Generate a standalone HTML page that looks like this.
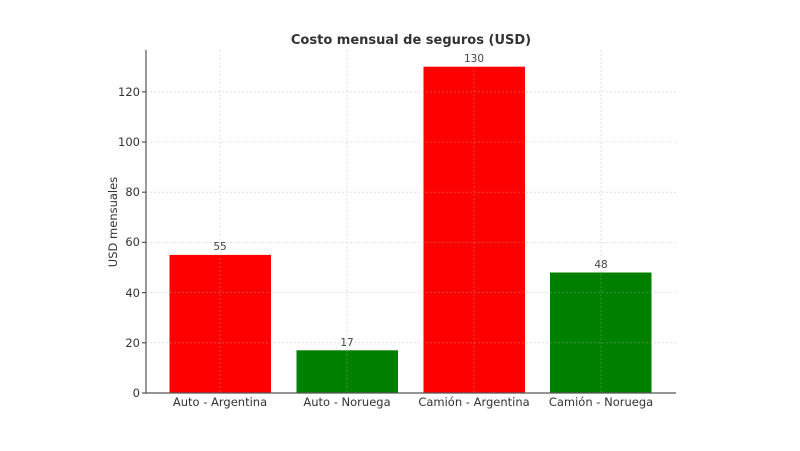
<!DOCTYPE html>
<html><head><meta charset="utf-8"><style>body{margin:0;background:#fff}svg{display:block}</style></head><body>
<svg width="800" height="451" viewBox="0 0 800 451" xmlns="http://www.w3.org/2000/svg" font-family="'DejaVu Sans','Liberation Sans',sans-serif">
<rect width="800" height="451" fill="#fff"/>
<g fill="#ff0000"><rect x="169.5" y="254.9" width="101.5" height="138.1"/><rect x="423.5" y="66.7" width="101.5" height="326.3"/></g>
<g fill="#008000"><rect x="296.5" y="350.3" width="101.5" height="42.7"/><rect x="550" y="272.5" width="101.5" height="120.5"/></g>
<g stroke="#b0b0b0" stroke-opacity="0.45" stroke-width="0.8" stroke-dasharray="2,2">
<line x1="146" x2="676" y1="342.8" y2="342.8"/><line x1="146" x2="676" y1="292.6" y2="292.6"/><line x1="146" x2="676" y1="242.4" y2="242.4"/><line x1="146" x2="676" y1="192.2" y2="192.2"/><line x1="146" x2="676" y1="142" y2="142"/><line x1="146" x2="676" y1="91.8" y2="91.8"/>
<line x1="220" x2="220" y1="50" y2="393"/><line x1="347" x2="347" y1="50" y2="393"/><line x1="474" x2="474" y1="50" y2="393"/><line x1="601" x2="601" y1="50" y2="393"/>
</g>
<g stroke="#555" stroke-width="1.2"><line x1="146" y1="50" x2="146" y2="393.5"/><line x1="145.5" y1="393" x2="676" y2="393"/>
<line x1="142" x2="146" y1="393" y2="393"/><line x1="142" x2="146" y1="342.8" y2="342.8"/><line x1="142" x2="146" y1="292.6" y2="292.6"/><line x1="142" x2="146" y1="242.4" y2="242.4"/><line x1="142" x2="146" y1="192.2" y2="192.2"/><line x1="142" x2="146" y1="142" y2="142"/><line x1="142" x2="146" y1="91.8" y2="91.8"/></g>
<g font-size="11.5" fill="#333" text-anchor="end">
<text x="140" y="397">0</text><text x="140" y="347">20</text><text x="140" y="297">40</text><text x="140" y="246">60</text><text x="140" y="196">80</text><text x="140" y="146">100</text><text x="140" y="96">120</text></g>
<g font-size="11.5" fill="#333" text-anchor="middle">
<text x="220" y="406">Auto - Argentina</text><text x="347" y="406">Auto - Noruega</text><text x="474" y="406">Camión - Argentina</text><text x="601" y="406">Camión - Noruega</text></g>
<g font-size="10.5" fill="#444" text-anchor="middle">
<text x="220" y="250">55</text><text x="347" y="346">17</text><text x="474" y="62">130</text><text x="601" y="268">48</text></g>
<text x="411" y="44" text-anchor="middle" font-size="13" font-weight="bold" fill="#333">Costo mensual de seguros (USD)</text>
<text transform="translate(117,222) rotate(-90)" text-anchor="middle" font-size="11.5" fill="#333">USD mensuales</text>
</svg>
</body></html>
